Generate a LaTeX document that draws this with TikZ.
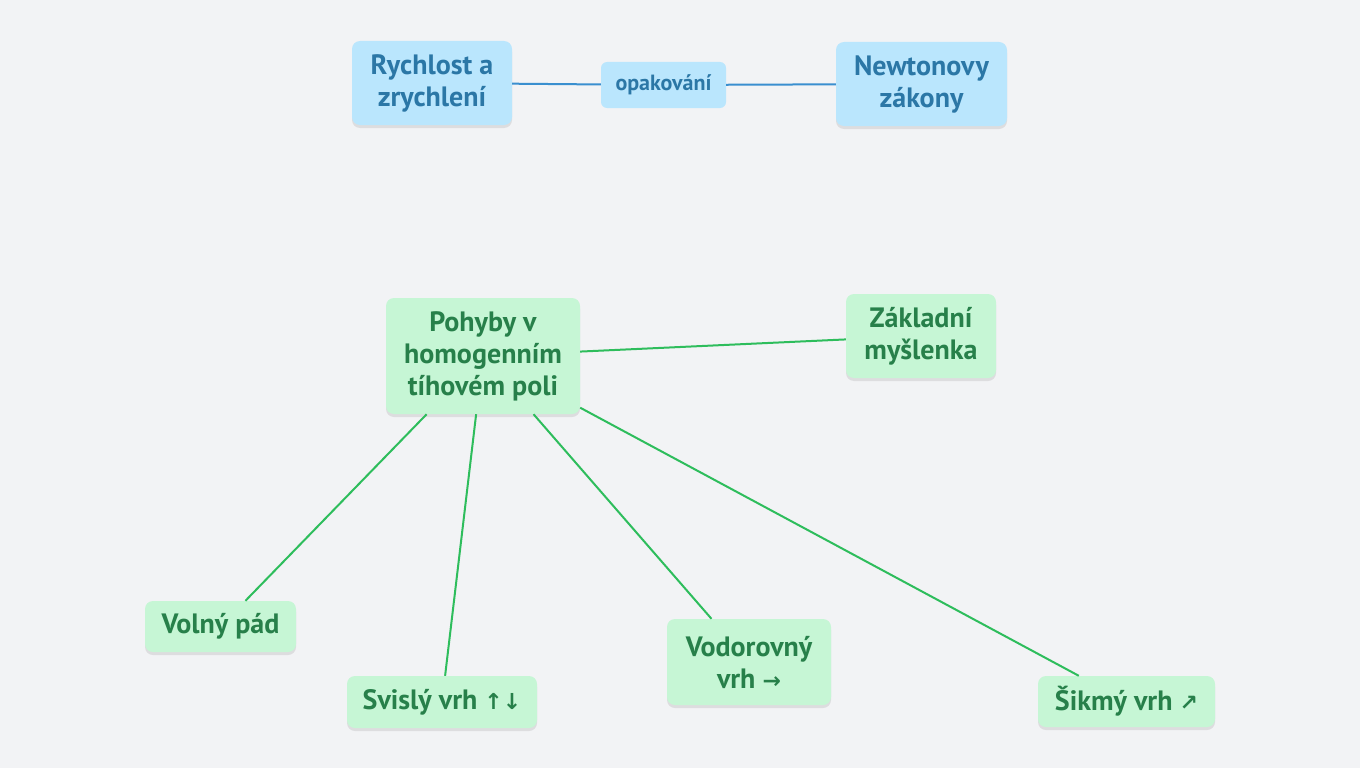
\documentclass[tikz,border=0pt]{standalone}
\usepackage{fontspec}
\setmainfont{PT Sans}
\newfontfamily\arrowfont{DejaVu Sans}
\usetikzlibrary{shadows}
\definecolor{bg}{HTML}{F2F3F5}
\definecolor{bluefill}{HTML}{BAE6FD}
\definecolor{bluetext}{HTML}{2B77A6}
\definecolor{blueline}{HTML}{3A8FCF}
\definecolor{greenfill}{HTML}{C6F6D5}
\definecolor{greentext}{HTML}{27804A}
\definecolor{greenline}{HTML}{2EBD5C}
\newcommand{\arr}[1]{{\arrowfont\bfseries\fontsize{22}{24}\selectfont #1}}
\tikzset{
  base/.style={rounded corners=8pt, align=center, font=\bfseries\fontsize{28}{32}\selectfont, inner sep=0pt,
    drop shadow={shadow xshift=0pt, shadow yshift=-3pt, opacity=0.15, fill=black!60}},
  bluebox/.style={base, fill=bluefill, text=bluetext},
  greenbox/.style={base, fill=greenfill, text=greentext},
  smallblue/.style={rounded corners=6pt, fill=bluefill, text=bluetext, font=\bfseries\fontsize{22}{26}\selectfont, inner sep=0pt},
  bedge/.style={blueline, line width=2pt},
  gedge/.style={greenline, line width=2pt},
}
\begin{document}
\begin{tikzpicture}[x=1pt,y=-1pt]
\fill[bg] (0,0) rectangle (1360,768);
\useasboundingbox (0,0) rectangle (1360,768);
\node[bluebox, minimum width=160pt, minimum height=84pt] (rych) at (432,83) {Rychlost a\\zrychlení};
\node[smallblue, minimum width=125pt, minimum height=46pt] (opak) at (663.5,85) {opakování};
\node[bluebox, minimum width=171pt, minimum height=84pt] (newt) at (921.5,84) {Newtonovy\\zákony};
\node[greenbox, minimum width=194pt, minimum height=116pt] (pohyb) at (483,356) {Pohyby v\\homogenním\\tíhovém poli};
\node[greenbox, minimum width=150pt, minimum height=84pt] (zakl) at (921,336) {Základní\\myšlenka};
\node[greenbox, minimum width=151pt, minimum height=51pt] (volny) at (220.5,626.5) {Volný pád};
\node[greenbox, minimum width=190pt, minimum height=52pt] (svisly) at (442,702) {Svislý vrh \arr{↑↓}};
\node[greenbox, minimum width=164pt, minimum height=86pt] (vodor) at (749,662) {Vodorovný\\vrh \arr{→}};
\node[greenbox, minimum width=177pt, minimum height=51pt] (sikmy) at (1126.5,701.5) {Šikmý vrh \arr{↗}};
\draw[bedge] (rych) -- (opak);
\draw[bedge] (opak) -- (newt);
\draw[gedge] (pohyb) -- (zakl);
\draw[gedge] (pohyb) -- (volny);
\draw[gedge] (pohyb) -- (svisly);
\draw[gedge] (pohyb) -- (vodor);
\draw[gedge] (pohyb) -- (sikmy);
\end{tikzpicture}
\end{document}
